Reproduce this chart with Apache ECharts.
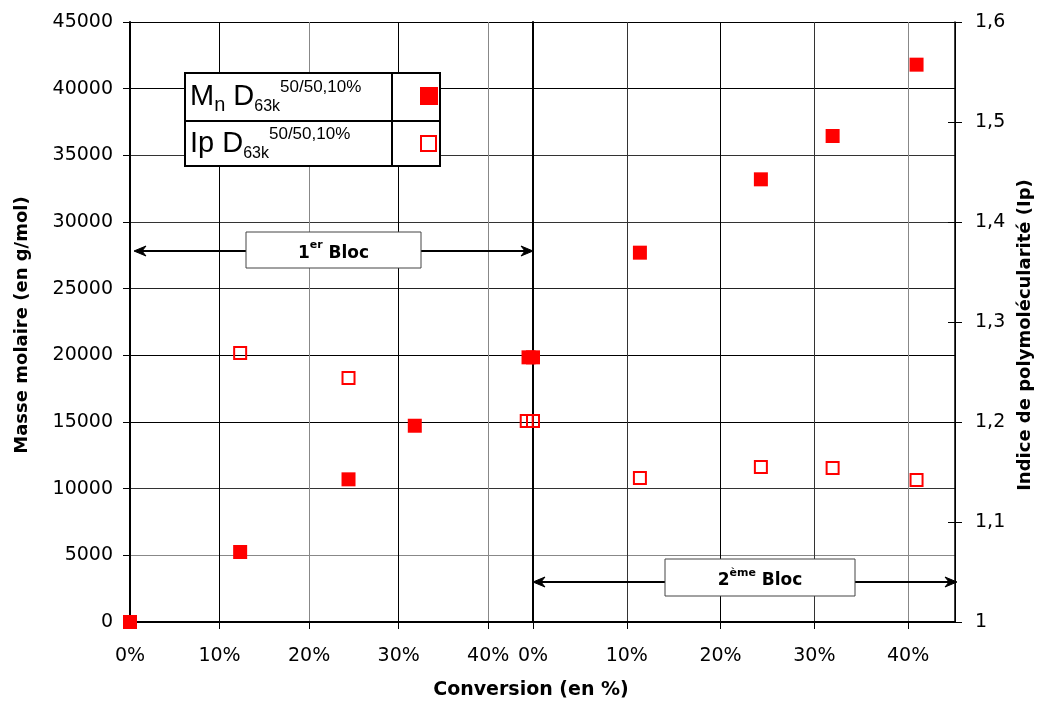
<!DOCTYPE html>
<html>
<head>
<meta charset="utf-8">
<script src="https://cdn.jsdelivr.net/npm/echarts@6/dist/echarts.min.js"></script>
<style>html,body{margin:0;padding:0;background:#fff;}#c{width:1042px;height:706px;}</style>
</head>
<body>
<div id="c"></div>
<script>
// ---- data (conversion in %, Mn in g/mol, Ip) ----
const mnConv1 = [0, 12.3, 24.4, 31.8, 44.5];
const mnVal1  = [0, 5250, 10700, 14720, 19850];
const ipConv1 = [12.3, 24.4, 44.3];
const ipVal1  = [1.269, 1.244, 1.201];
const mnConv2 = [0, 11.4, 24.3, 31.95, 40.9];
const mnVal2  = [19850, 27700, 33200, 36450, 41800];
const ipConv2 = [0, 11.4, 24.3, 31.95, 40.9];
const ipVal2  = [1.201, 1.144, 1.155, 1.154, 1.142];
const convRange = [0, 45, 10];          // min, max, interval (%)
const mnRange = [0, 45000, 5000];
const ipRange = [1, 1.6, 0.1];
const blockLabels = ['1', 'er', ' Bloc', '2', 'ème', ' Bloc'];
const xTitle = 'Conversion (en %)';
const yTitleLeft = 'Masse molaire (en g/mol)';
const yTitleRight = 'Indice de polymolécularité (Ip)';

const zip = (a, b) => a.map((v, i) => [v, b[i]]);
const F = 'DejaVu Sans';
const TF = 'Liberation Sans';

const chart = echarts.init(document.getElementById('c'));

const xAxisBase = (gi, colors) => ({
  type: 'value', gridIndex: gi, min: convRange[0], max: convRange[1], interval: convRange[2],
  axisLine: { show: true, onZero: false, lineStyle: { color: '#000', width: 2 } },
  axisTick: { show: true, length: 7, lineStyle: { color: '#000', width: 1 } },
  axisLabel: { margin: 25, showMaxLabel: false, fontFamily: F, fontSize: 19, color: '#000',
               formatter: v => v + '%' },
  splitLine: { show: true, lineStyle: { color: colors, width: 1 } }
});
const hColors = ['#000', '#888', '#333', '#000', '#000', '#222', '#333', '#333', '#000', '#000'];

const option = {
  animation: false,
  backgroundColor: '#fff',
  grid: [
    { left: 130, top: 22, width: 403, height: 600 },
    { left: 533, top: 22, width: 422, height: 600 }
  ],
  xAxis: [
    xAxisBase(0, ['#000', '#000', '#888', '#000', '#888', '#000']),
    xAxisBase(1, ['#000', '#333', '#000', '#333', '#888', '#000'])
  ],
  yAxis: [
    { type: 'value', gridIndex: 0, position: 'left', min: mnRange[0], max: mnRange[1], interval: mnRange[2],
      axisLine: { show: true, lineStyle: { color: '#000', width: 2 } },
      axisTick: { show: true, length: 7, lineStyle: { color: '#000' } },
      axisLabel: { margin: 17, fontFamily: F, fontSize: 19, color: '#000', formatter: v => String(v) },
      splitLine: { show: true, lineStyle: { color: hColors, width: 1 } } },
    { type: 'value', gridIndex: 0, position: 'right', min: ipRange[0], max: ipRange[1], interval: ipRange[2], show: false },
    { type: 'value', gridIndex: 1, position: 'left', min: mnRange[0], max: mnRange[1], interval: mnRange[2],
      axisLine: { show: true, lineStyle: { color: '#000', width: 2 } },
      axisTick: { show: false }, axisLabel: { show: false },
      splitLine: { show: true, lineStyle: { color: hColors, width: 1 } } },
    { type: 'value', gridIndex: 1, position: 'right', min: ipRange[0], max: ipRange[1], interval: ipRange[2],
      axisLine: { show: true, lineStyle: { color: '#000', width: 1.5 } },
      axisTick: { show: true, length: 7, lineStyle: { color: '#000' } },
      axisLabel: { margin: 20, fontFamily: F, fontSize: 19, color: '#000',
                   formatter: v => String(+v.toFixed(1)).replace('.', ',') },
      splitLine: { show: false } },
    { type: 'value', gridIndex: 1, position: 'right', min: ipRange[0], max: ipRange[1], interval: ipRange[2],
      axisLine: { show: false }, axisLabel: { show: false }, splitLine: { show: false },
      axisTick: { show: true, inside: true, length: 7, lineStyle: { color: '#000' } } }
  ],
  series: [
    { type: 'scatter', xAxisIndex: 0, yAxisIndex: 0, clip: false, symbol: 'rect', symbolSize: 14,
      itemStyle: { color: '#ff0000', opacity: 1 }, data: zip(mnConv1, mnVal1), z: 5 },
    { type: 'scatter', xAxisIndex: 0, yAxisIndex: 1, clip: false, symbol: 'rect', symbolSize: 12,
      itemStyle: { color: 'rgba(255,255,255,0)', borderColor: '#ff0000', borderWidth: 2, opacity: 1 },
      data: zip(ipConv1, ipVal1), z: 5 },
    { type: 'scatter', xAxisIndex: 1, yAxisIndex: 2, clip: false, symbol: 'rect', symbolSize: 14,
      itemStyle: { color: '#ff0000', opacity: 1 }, data: zip(mnConv2, mnVal2), z: 5 },
    { type: 'scatter', xAxisIndex: 1, yAxisIndex: 3, clip: false, symbol: 'rect', symbolSize: 12,
      itemStyle: { color: 'rgba(255,255,255,0)', borderColor: '#ff0000', borderWidth: 2, opacity: 1 },
      data: zip(ipConv2, ipVal2), z: 5 }
  ],
  graphic: []
};

function arrowHead(tipX, y, dir) {
  return { type: 'polygon', z: 20, shape: { points: [[tipX, y], [tipX - dir * 12, y - 5], [tipX - dir * 8, y], [tipX - dir * 12, y + 5]] },
           style: { fill: '#000', stroke: '#000', lineWidth: 1 } };
}
function blockTag(x1, x2, y, bx1, bx2, by1, by2, a, b, c) {
  return [
    { type: 'line', z: 20, shape: { x1: x1 + 4, y1: y, x2: x2 - 4, y2: y }, style: { stroke: '#000', lineWidth: 2 } },
    arrowHead(x1, y, -1), arrowHead(x2, y, 1),
    { type: 'rect', z: 21, shape: { x: bx1, y: by1, width: bx2 - bx1, height: by2 - by1 },
      style: { fill: '#fff', stroke: '#444', lineWidth: 1 } },
    { type: 'text', z: 22, x: (bx1 + bx2) / 2, y: (by1 + by2) / 2 + 1,
      style: { text: '{m|' + a + '}{s|' + b + '}{m|' + c + '}', align: 'center', verticalAlign: 'middle',
               rich: { m: { fontFamily: F, fontWeight: 'bold', fontSize: 17, color: '#000', lineHeight: 22, verticalAlign: 'bottom' },
                       s: { fontFamily: F, fontWeight: 'bold', fontSize: 11, color: '#000', lineHeight: 11, verticalAlign: 'top' } } } }
  ];
}
option.graphic.push(...blockTag(134, 533, 251, 246, 421, 232, 268, blockLabels[0], blockLabels[1], blockLabels[2]));
option.graphic.push(...blockTag(533, 957, 582, 665, 855, 559, 596, blockLabels[3], blockLabels[4], blockLabels[5]));

// legend table
const legRich = {
  m: { fontFamily: TF, fontSize: 29, color: '#000', lineHeight: 36, verticalAlign: 'middle' },
  n: { fontFamily: TF, fontSize: 20, color: '#000', lineHeight: 20, verticalAlign: 'bottom' },
  s: { fontFamily: TF, fontSize: 16, color: '#000', lineHeight: 16, verticalAlign: 'bottom' },
  p: { fontFamily: TF, fontSize: 17, color: '#000', lineHeight: 17, verticalAlign: 'top' }
};
option.graphic.push(
  { type: 'rect', z: 30, shape: { x: 185, y: 73, width: 255, height: 93 }, style: { fill: '#fff', stroke: '#000', lineWidth: 2 } },
  { type: 'line', z: 31, shape: { x1: 185, y1: 121, x2: 440, y2: 121 }, style: { stroke: '#000', lineWidth: 2 } },
  { type: 'line', z: 31, shape: { x1: 392, y1: 73, x2: 392, y2: 166 }, style: { stroke: '#000', lineWidth: 2 } },
  { type: 'text', z: 32, x: 190, y: 97, style: { text: '{m|M}{n|n}{m| D}{s|63k}{p|50/50,10%}', verticalAlign: 'middle', rich: legRich } },
  { type: 'text', z: 32, x: 190, y: 144, style: { text: '{m|Ip D}{s|63k}{p|50/50,10%}', verticalAlign: 'middle', rich: legRich } },
  { type: 'rect', z: 32, shape: { x: 420, y: 87, width: 18, height: 18 }, style: { fill: '#ff0000' } },
  { type: 'rect', z: 32, shape: { x: 421, y: 136, width: 15, height: 15 }, style: { fill: '#fff', stroke: '#ff0000', lineWidth: 2 } }
);

// axis titles
option.graphic.push(
  { type: 'text', z: 10, x: 531, y: 690, style: { text: xTitle, align: 'center', verticalAlign: 'middle', fontFamily: F, fontWeight: 'bold', fontSize: 19, fill: '#000' } },
  { type: 'text', z: 10, x: 22, y: 325, rotation: Math.PI / 2, style: { text: yTitleLeft, align: 'center', verticalAlign: 'middle', fontFamily: F, fontWeight: 'bold', fontSize: 18, fill: '#000' } },
  { type: 'text', z: 10, x: 1025, y: 335, rotation: Math.PI / 2, style: { text: yTitleRight, align: 'center', verticalAlign: 'middle', fontFamily: F, fontWeight: 'bold', fontSize: 18, fill: '#000' } }
);

chart.setOption(option);
</script>
</body>
</html>
